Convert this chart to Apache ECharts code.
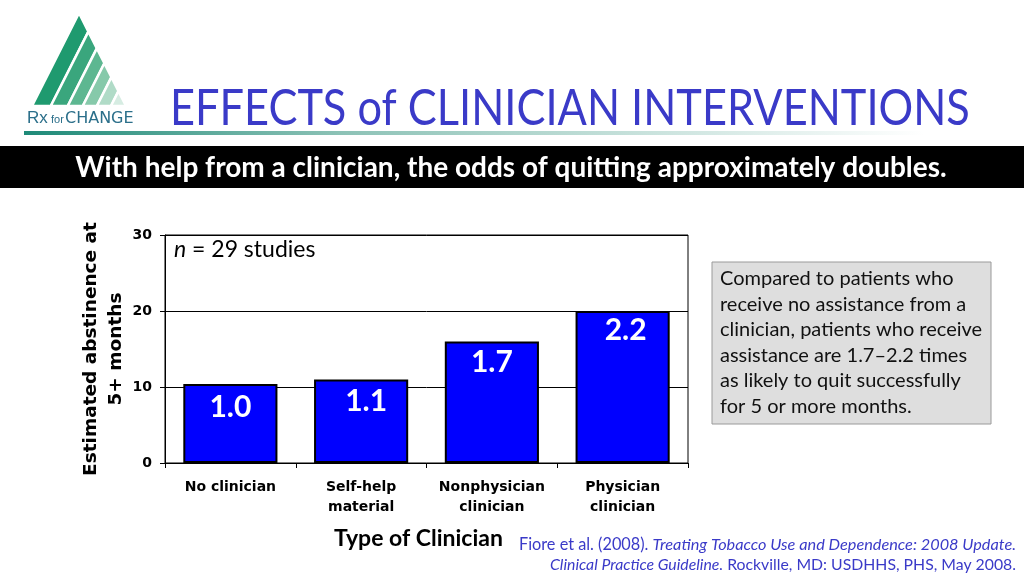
<!DOCTYPE html>
<html>
<head>
<meta charset="utf-8">
<script src="https://cdn.jsdelivr.net/npm/echarts@6/dist/echarts.min.js"></script>
<style>
html,body{margin:0;padding:0;background:#fff;}
#chart{width:1024px;height:576px;}
</style>
</head>
<body>
<div id="chart"></div>
<script>
// ---- data ----
const categories = ['No clinician', 'Self-help\nmaterial', 'Nonphysician\nclinician', 'Physician\nclinician'];
const abstinence = [10.4, 11.0, 16.0, 20.0];
const oddsRatios = ['1.0', '1.1', '1.7', '2.2'];
const yTicks = [0, 10, 20, 30];

// label nudges (style only)
const labelOffsets = [[0, 8], [5, 7], [0, 6], [3, 4]];

const chart = echarts.init(document.getElementById('chart'), null, {renderer: 'canvas'});

// logo stripes
const A = [79, 13], B = [32, 106], C = [126, 106];
const ts = [0, 0.2, 0.38, 0.54, 0.69, 0.84, 1.0];
const stripeColors = ['#1f9a6f', '#3aa67d', '#5db791', '#86c9aa', '#b0dbc7', '#d6ece2'];
function P(t){return [B[0] + t*(C[0]-B[0]), B[1] + t*(C[1]-B[1])];}
function Q(t){return [A[0] + t*(C[0]-A[0]), A[1] + t*(C[1]-A[1])];}
const logo = [];
for (let i = 0; i < 6; i++) {
  logo.push({
    type: 'polygon',
    shape: {points: [P(ts[i]), Q(ts[i]), Q(ts[i+1]), P(ts[i+1])]},
    style: {fill: stripeColors[i], stroke: '#fff', lineWidth: 2.5}
  });
}

const blue = '#3a3ac8';
const option = {
  backgroundColor: '#ffffff',
  animation: false,
  grid: {left: 165, right: 336, top: 235, bottom: 113, show: true, borderColor: '#000', borderWidth: 1},
  xAxis: {
    type: 'category',
    data: categories,
    axisLine: {lineStyle: {color: '#000', width: 1}},
    axisTick: {show: true, alignWithLabel: false, length: 5, lineStyle: {color: '#000'}},
    axisLabel: {interval: 0, color: '#000', fontFamily: 'DejaVu Sans', fontWeight: 'bold', fontSize: 14, margin: 14, lineHeight: 20},
    name: 'Type of Clinician',
    nameLocation: 'middle',
    nameGap: 64,
    nameTextStyle: {color: '#000', fontFamily: 'Lato', fontWeight: 'bold', fontSize: 23, padding: [0, 16, 0, 0]}
  },
  yAxis: {
    type: 'value',
    min: yTicks[0], max: yTicks[yTicks.length - 1], interval: 10,
    axisLine: {show: true, lineStyle: {color: '#000', width: 1}},
    axisTick: {show: true, length: 5, lineStyle: {color: '#000'}},
    axisLabel: {color: '#000', fontFamily: 'DejaVu Sans', fontWeight: 'bold', fontSize: 14, margin: 13},
    splitLine: {show: true, lineStyle: {color: '#000', width: 1}},
    name: 'Estimated abstinence at\n5+ months',
    nameLocation: 'middle',
    nameMoveOverlap: false,
    nameGap: 36,
    nameTextStyle: {color: '#000', fontFamily: 'DejaVu Sans', fontWeight: 'bold', fontSize: 18.5, lineHeight: 25}
  },
  series: [{
    type: 'bar',
    barWidth: '72%',
    data: abstinence.map((v, i) => ({
      value: v,
      label: {offset: labelOffsets[i]}
    })),
    itemStyle: {color: '#0000ff', borderColor: '#000', borderWidth: 2},
    label: {
      show: true,
      position: 'insideTop',
      distance: 0,
      formatter: p => oddsRatios[p.dataIndex],
      color: '#fff',
      fontFamily: 'Lato',
      fontWeight: 'bold',
      fontSize: 30
    }
  }],
  graphic: [
    ...logo,
    {type: 'text', left: 27, top: 110, style: {text: 'Rx', font: '17px "Liberation Sans"', fill: '#2b6f8a'}},
    {type: 'text', left: 51, top: 114, style: {text: 'for', font: '11px "Liberation Sans"', fill: '#2b6f8a'}},
    {type: 'text', left: 65, top: 111, style: {text: 'CHANGE', font: '16px "DejaVu Sans"', fill: '#2b6f8a'}},
    {
      type: 'rect', shape: {x: 24, y: 131, width: 900, height: 4},
      style: {fill: new echarts.graphic.LinearGradient(0, 0, 1, 0, [
        {offset: 0, color: '#1e8a78'}, {offset: 0.35, color: '#8cc2b6'}, {offset: 1, color: '#ffffff'}
      ])}
    },
    {type: 'text', x: 170, y: 83, scaleX: 0.85, style: {text: 'EFFECTS of CLINICIAN INTERVENTIONS', font: '51px Lato', fill: blue}},
    {type: 'rect', shape: {x: 0, y: 146, width: 1024, height: 42}, style: {fill: '#000'}},
    {type: 'text', x: 511, y: 168, style: {text: 'With help from a clinician, the odds of quitting approximately doubles.', font: 'bold 28px Lato', fill: '#fff', textAlign: 'center', textVerticalAlign: 'middle'}},
    {type: 'text', left: 174, top: 238, style: {rich: {i: {fontStyle: 'italic', fontFamily: 'Lato', fontSize: 23, fill: '#000'}, r: {fontFamily: 'Lato', fontSize: 23, fill: '#000'}}, text: '{i|n}{r| = 29 studies}'}},
    {type: 'rect', shape: {x: 712, y: 262, width: 279, height: 162}, style: {fill: '#dedede', stroke: '#9a9a9a', lineWidth: 1}},
    {type: 'text', left: 720, top: 266, style: {text: 'Compared to patients who\nreceive no assistance from a\nclinician, patients who receive\nassistance are 1.7\u20132.2 times\nas likely to quit successfully\nfor 5 or more months.', font: '20px Lato', lineHeight: 25.5, fill: '#111'}},
    {type: 'text', x: 1016, y: 545, style: {rich: {r: {fontFamily: 'Lato', fontSize: 16.3, fill: blue}, i: {fontFamily: 'Lato', fontStyle: 'italic', fontSize: 16.3, fill: blue}}, text: '{r|Fiore et al. (2008). }{i|Treating Tobacco Use and Dependence: 2008 Update.}', textAlign: 'right', textVerticalAlign: 'middle'}},
    {type: 'text', x: 1016, y: 565, style: {rich: {r: {fontFamily: 'Lato', fontSize: 15.8, fill: blue}, i: {fontFamily: 'Lato', fontStyle: 'italic', fontSize: 15.8, fill: blue}}, text: '{i|Clinical Practice Guideline.}{r| Rockville, MD: USDHHS, PHS, May 2008.}', textAlign: 'right', textVerticalAlign: 'middle'}}
  ]
};
chart.setOption(option);
</script>
</body>
</html>
